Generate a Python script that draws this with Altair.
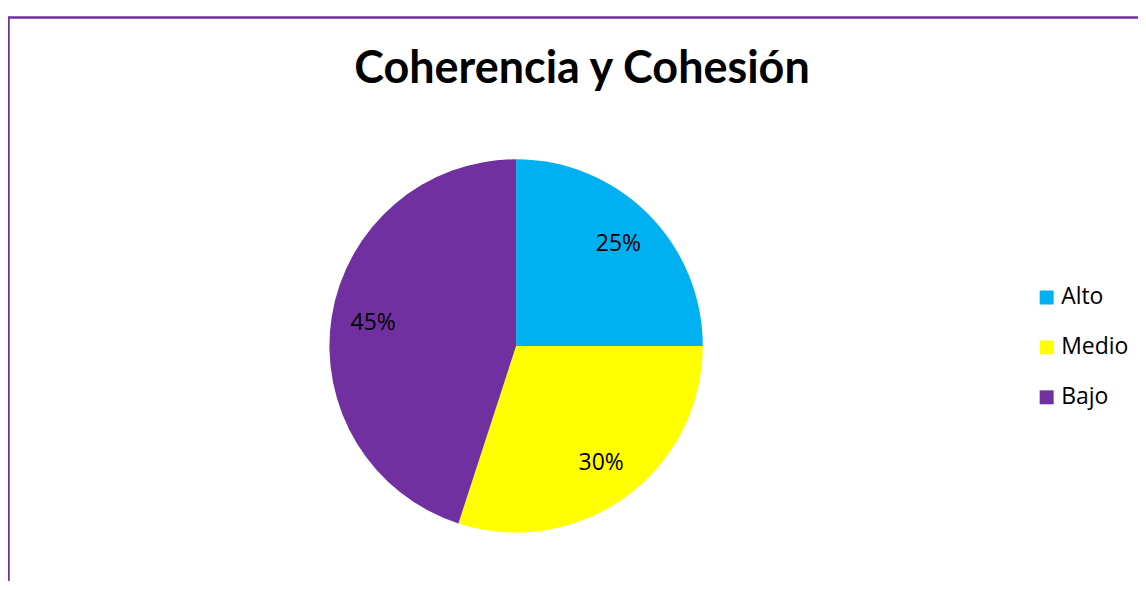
import altair as alt
import pandas as pd

categories = ["Alto", "Medio", "Bajo"]
values = [25, 30, 45]
labels = ["25%", "30%", "45%"]
colors = ["#00B0F0", "#FFFF00", "#7030A0"]
title_text = "Coherencia y Cohesión"

df = pd.DataFrame({"cat": categories, "val": values, "lab": labels, "idx": [0, 1, 2]})
tdf = pd.DataFrame({"t": [title_text]})
fdf = pd.DataFrame({"f": [0]})

cx, cy = 507, 338

base = alt.Chart(df).encode(
    theta=alt.Theta("val:Q", stack=True),
    order=alt.Order("idx:Q"),
    color=alt.Color(
        "cat:N",
        scale=alt.Scale(domain=categories, range=colors),
        legend=alt.Legend(
            orient="none", legendX=1027, legendY=278, title=None,
            symbolType="square", symbolSize=196, symbolStrokeWidth=0,
            labelFontSize=23, labelFont="Open Sans", labelColor="#000000",
            labelOffset=3, rowPadding=26, padding=0,
        ),
    ),
)
arcs = base.mark_arc(outerRadius=187, x=cx, y=cy, stroke=None)
texts = base.mark_text(radius=145, x=cx, y=cy, fontSize=23, font="Open Sans").encode(
    text="lab:N", color=alt.value("#000000")
)
title = alt.Chart(tdf).mark_text(
    x=573, y=75, baseline="alphabetic", align="center",
    fontSize=45, fontWeight="bold", font="Lato", color="#000000"
).encode(text="t:N")
frame = alt.Chart(fdf).mark_rect(
    fill=None, stroke="#7030A0", strokeWidth=2.5, clip=False
).encode(
    x=alt.value(-1.5), x2=alt.value(1160), y=alt.value(9), y2=alt.value(620)
)

chart = alt.layer(frame, arcs, texts, title).properties(
    width=1130, height=573,
    autosize=alt.AutoSizeParams(type="none"),
    padding={"left": 2, "top": 0, "right": 0, "bottom": 0},
).configure_view(stroke=None)

chart.save("out.html", embed_options={"renderer": "svg", "actions": False})
